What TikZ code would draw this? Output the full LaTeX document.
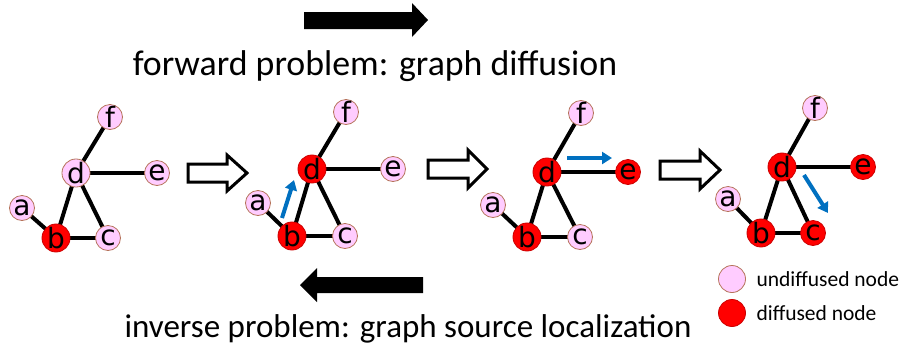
\documentclass[tikz,border=0pt]{standalone}
\usepackage{fontspec}
\setmainfont{Carlito}
\newfontfamily\nodefont{DejaVu Sans}
\usetikzlibrary{arrows.meta,backgrounds}
\definecolor{pinkfill}{HTML}{FFCCFF}
\definecolor{nodeborder}{HTML}{B5735A}
\definecolor{redfill}{HTML}{FF0000}
\definecolor{arrblue}{HTML}{0070C0}
\tikzset{
  undiff/.style={circle,draw=nodeborder,line width=0.8pt,fill=pinkfill,minimum size=25pt,inner sep=0pt,font=\nodefont\fontsize{28}{28}\selectfont},
  diff/.style={circle,draw=red!80!black,line width=0.8pt,fill=redfill,minimum size=25pt,inner sep=0pt,font=\nodefont\fontsize{28}{28}\selectfont},
  edge/.style={line width=4pt,black},
  hollow/.style={draw=black,line width=3pt,fill=white,line join=miter},
  solidarr/.style={fill=black},
  flow/.style={arrblue,line width=4pt,-{Triangle[length=10pt,width=12pt]}},
  title/.style={anchor=base},
  legtext/.style={font=\fontsize{21.5}{21.5}\selectfont,anchor=west}
}
\begin{document}
\begin{tikzpicture}[x=1pt,y=-1pt]
\useasboundingbox (0,0) rectangle (903,349);
% ---------- titles ----------
\fill[solidarr] (304,12) -- (412,12) -- (412,3) -- (428,20) -- (412,37) -- (412,29) -- (304,29) -- cycle;
\node[title,font=\fontsize{35.8}{36}\selectfont] (fwd) at (375,75) {forward problem: graph diffusion};
\fill[solidarr] (423,277) -- (317,277) -- (317,268) -- (300,285) -- (317,302) -- (317,293) -- (423,293) -- cycle;
\node[title,font=\fontsize{33}{33}\selectfont] (inv) at (408,337) {inverse problem: graph source localization};
% ---------- graph 1 ----------
\node[undiff] (f1) at (110,117) {f};
\node[undiff] (d1) at (76,173) {d};
\node[undiff] (e1) at (157,173) {e};
\node[undiff] (a1) at (22,208) {a};
\node[diff]   (b1) at (56,238) {b};
\node[undiff] (c1) at (108,238) {c};
% ---------- graph 2 ----------
\node[undiff] (f2) at (346,112) {f};
\node[diff]   (d2) at (312,169) {d};
\node[undiff] (e2) at (393,169) {e};
\node[undiff] (a2) at (258,203) {a};
\node[diff]   (b2) at (292,236) {b};
\node[undiff] (c2) at (345,236) {c};
% ---------- graph 3 ----------
\node[undiff] (f3) at (581,113) {f};
\node[diff]   (d3) at (547,172) {d};
\node[diff]   (e3) at (628,172) {e};
\node[undiff] (a3) at (493,205) {a};
\node[diff]   (b3) at (527,237) {b};
\node[undiff] (c3) at (580,237) {c};
% ---------- graph 4 ----------
\node[undiff] (f4) at (815,108) {f};
\node[diff]   (d4) at (782,167) {d};
\node[diff]   (e4) at (863,167) {e};
\node[undiff] (a4) at (728,199) {a};
\node[diff]   (b4) at (761,233) {b};
\node[diff]   (c4) at (813,233) {c};
% edges behind nodes
\begin{scope}[on background layer]
\foreach \g in {1,2,3,4}{
  \draw[edge] (f\g.center) -- (d\g.center);
  \draw[edge] (d\g.center) -- (e\g.center);
  \draw[edge] (d\g.center) -- (b\g.center);
  \draw[edge] (d\g.center) -- (c\g.center);
  \draw[edge] (a\g.center) -- (b\g.center);
  \draw[edge] (b\g.center) -- (c\g.center);
}
\end{scope}
% ---------- hollow step arrows ----------
\draw[hollow] (188,164) -- (227,164) -- (227,155) -- (247,173) -- (227,191) -- (227,182) -- (188,182) -- cycle;
\draw[hollow] (428,160) -- (468,160) -- (468,150) -- (487,169) -- (468,188) -- (468,178) -- (428,178) -- cycle;
\draw[hollow] (660,161) -- (700,161) -- (700,151) -- (720,170) -- (700,189) -- (700,179) -- (660,179) -- cycle;
% ---------- blue diffusion arrows ----------
\coordinate (s2) at (282,218); \coordinate (t2) at (294,180);
\draw[flow] (s2) -- (t2);
\coordinate (s3) at (567,158); \coordinate (t3) at (612,158);
\draw[flow] (s3) -- (t3);
\coordinate (s4) at (804,175); \coordinate (t4) at (828,213);
\draw[flow] (s4) -- (t4);
% ---------- legend ----------
\node[undiff,minimum size=27pt] (lu) at (732,279) {};
\node[legtext] (lut) at (753,279) {undiffused node};
\node[diff,minimum size=27pt] (ld) at (732,313) {};
\node[legtext] (ldt) at (753,313) {diffused node};
\end{tikzpicture}
\end{document}
